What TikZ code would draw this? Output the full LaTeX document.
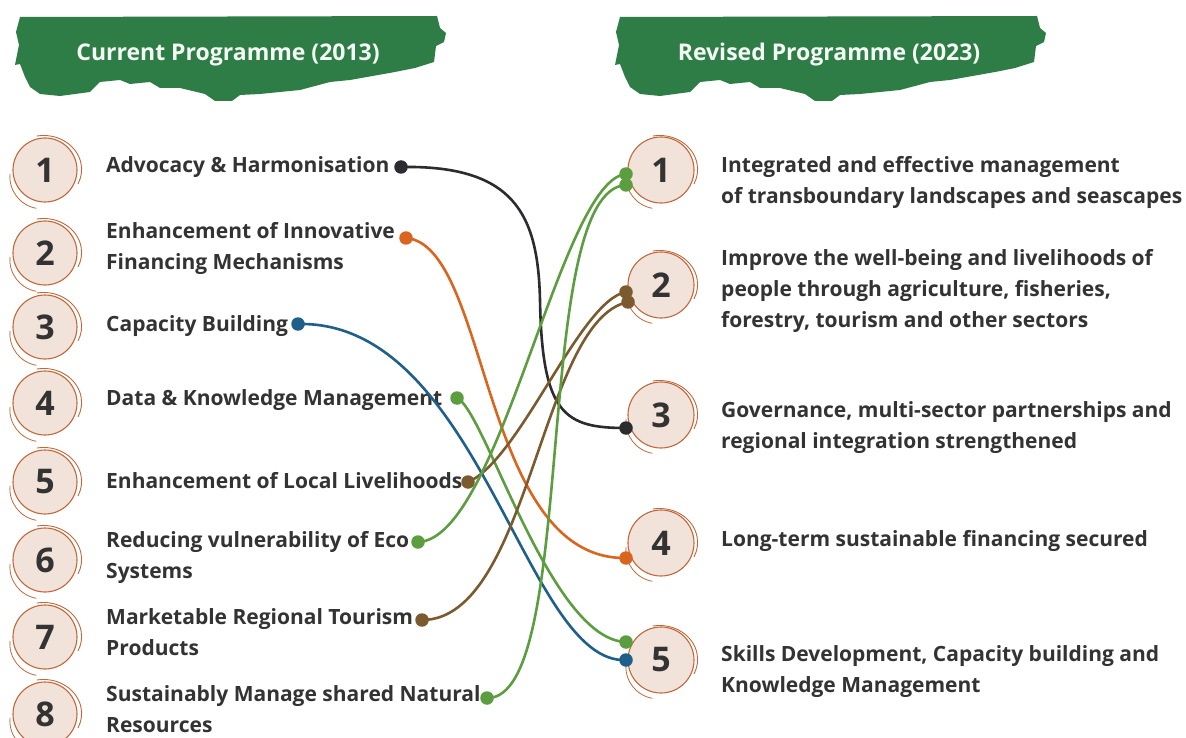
\documentclass[tikz,border=0pt]{standalone}
\usepackage{fontspec}
\setmainfont{Open Sans}
\usetikzlibrary{calc}
\definecolor{txt}{HTML}{333333}
\definecolor{bann}{HTML}{2E7D46}
\definecolor{beige}{HTML}{F1E3D9}
\definecolor{ring}{HTML}{C0683A}
\definecolor{cblack}{HTML}{2B2B30}
\definecolor{corange}{HTML}{D9651F}
\definecolor{cblue}{HTML}{1F5F8B}
\definecolor{cgreen}{HTML}{5C9E3F}
\definecolor{cbrown}{HTML}{7A5A2E}
\tikzset{
  numc/.style={circle, fill=beige, draw=ring, line width=1.1pt, minimum size=64pt, inner sep=0pt,
    font=\fontsize{34}{34}\selectfont\bfseries, text=txt},
  ltext/.style={anchor=west, align=left, font=\fontsize{21}{31}\selectfont\bfseries, text=txt, inner sep=0pt},
  btext/.style={font=\fontsize{23}{26}\selectfont\bfseries, text=white!95!bann, inner sep=0pt},
  dotn/.style={circle, fill=#1, minimum size=13.5pt, inner sep=0pt},
  conn/.style={line width=2.6pt, draw=#1},
}
\newcommand{\sketchring}[1]{%
  \draw[ring, line width=0.9pt] ($(#1)+(-8,-34)$) arc[start angle=100, end angle=-25, x radius=38pt, y radius=34pt];
  \draw[ring, line width=0.8pt] ($(#1)+(-35,4)$) arc[start angle=175, end angle=260, radius=32pt];
}
\newcommand{\bannershape}{%
  (20,17) -- (437,16) -- (440,28) -- (446,33) -- (444,42) -- (436,46) -- (434,62) -- (415,68) -- (395,72)
  -- (350,80) -- (330,82) -- (300,90) -- (260,94) -- (240,95) -- (232,101) -- (215,101) -- (205,94)
  -- (180,88) -- (160,88) -- (150,82) -- (130,84) -- (120,80) -- (100,82) -- (90,92) -- (60,96)
  -- (40,94) -- (30,87) -- (25,77) -- (20,64) -- (15,65) -- (19,45) -- (16,32) -- cycle}
\begin{document}
\begin{tikzpicture}[x=1pt,y=-1pt]
\useasboundingbox (0,0) rectangle (1186,738);
\fill[white] (0,0) rectangle (1186,738);
% banners
\fill[bann] \bannershape;
\begin{scope}[xshift=600pt]
\fill[bann] \bannershape;
\end{scope}
\node[btext] (t1) at (228,55) {Current Programme (2013)};
\node[btext] (t2) at (829,55) {Revised Programme (2023)};
% left circles
\foreach \i/\y in {1/170,2/253,3/327,4/403,5/482,6/560,7/637,8/714}{
  \node[numc] (L\i) at (45,\y) {\i};
  \sketchring{L\i}
}
\foreach \i/\y in {1/170,2/285,3/415,4/543,5/660}{
  \node[numc, minimum size=66pt] (R\i) at (661,\y) {\i};
  \sketchring{R\i}
}
% left texts
\node[ltext] (lt1) at (106,167) {Advocacy \& Harmonisation};
\node[ltext] (lt2) at (106,248) {Enhancement of Innovative\\Financing Mechanisms};
\node[ltext] (lt3) at (106,326) {Capacity Building};
\node[ltext] (lt4) at (106,400) {Data \& Knowledge Management};
\node[ltext] (lt5) at (106,481) {Enhancement of Local Livelihoods};
\node[ltext] (lt6) at (106,557) {Reducing vulnerability of Eco\\Systems};
\node[ltext] (lt7) at (106,632) {Marketable Regional Tourism\\Products};
\node[ltext] (lt8) at (106,709) {Sustainably Manage shared Natural\\Resources};
% right texts
\node[ltext] (rt1) at (721,182) {Integrated and effective management\\of transboundary landscapes and seascapes};
\node[ltext] (rt2) at (721,291) {Improve the well-being and livelihoods of\\people through agriculture, fisheries,\\forestry, tourism and other sectors};
\node[ltext] (rt3) at (721,428) {Governance, multi-sector partnerships and\\regional integration strengthened};
\node[ltext] (rt4) at (721,541) {Long-term sustainable financing secured};
\node[ltext] (rt5) at (721,672) {Skills Development, Capacity building and\\Knowledge Management};
% dot positions
\coordinate (a1) at (401,167);
\coordinate (a2) at (406,238);
\coordinate (a3) at (298,324);
\coordinate (a4) at (457,398);
\coordinate (a5) at (468,482);
\coordinate (a6) at (418,542);
\coordinate (a7) at (422,620);
\coordinate (a8) at (487,698);
\coordinate (b1a) at (626,174);
\coordinate (b1b) at (626,185);
\coordinate (b2a) at (626,292);
\coordinate (b2b) at (628,302);
\coordinate (b3) at (626,428);
\coordinate (b4) at (626,558);
\coordinate (b5a) at (626,642);
\coordinate (b5b) at (626,660);
% connectors
\draw[conn=cblack] (a1) .. controls (515,165) and (538,215) .. (540,300) .. controls (542,415) and (565,428) .. (b3);
\draw[conn=corange] (a2) .. controls (490,245) and (480,560) .. (b4);
\draw[conn=cblue] (a3) .. controls (480,320) and (525,665) .. (b5b);
\draw[conn=cgreen] (a4) .. controls (485,410) and (550,640) .. (b5a);
\draw[conn=cbrown] (a5) .. controls (520,460) and (580,300) .. (b2a);
\draw[conn=cgreen] (a6) .. controls (500,540) and (560,180) .. (b1a);
\draw[conn=cbrown] (a7) .. controls (530,620) and (540,320) .. (b2b);
\draw[conn=cgreen] (a8) .. controls (580,700) and (530,190) .. (b1b);
% dots
\node[dotn=cblack] (d1) at (a1) {};
\node[dotn=corange] (d2) at (a2) {};
\node[dotn=cblue] (d3) at (a3) {};
\node[dotn=cgreen] (d4) at (a4) {};
\node[dotn=cbrown] (d5) at (a5) {};
\node[dotn=cgreen] (d6) at (a6) {};
\node[dotn=cbrown] (d7) at (a7) {};
\node[dotn=cgreen] (d8) at (a8) {};
\node[dotn=cgreen] (e1a) at (b1a) {};
\node[dotn=cgreen] (e1b) at (b1b) {};
\node[dotn=cbrown] (e2a) at (b2a) {};
\node[dotn=cbrown] (e2b) at (b2b) {};
\node[dotn=cblack] (e3) at (b3) {};
\node[dotn=corange] (e4) at (b4) {};
\node[dotn=cgreen] (e5a) at (b5a) {};
\node[dotn=cblue] (e5b) at (b5b) {};
\end{tikzpicture}
\end{document}
